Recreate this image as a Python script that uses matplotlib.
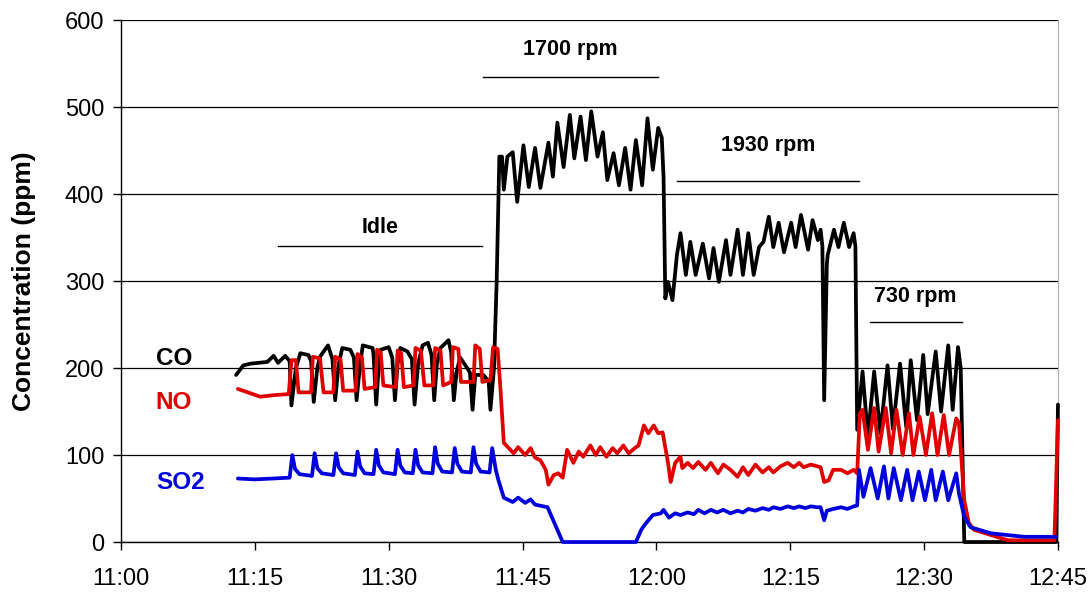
import matplotlib.pyplot as plt

# time axis: minutes after 11:00
tick_minutes = [0, 15, 30, 45, 60, 75, 90, 105]
tick_labels = ["11:00", "11:15", "11:30", "11:45", "12:00", "12:15", "12:30", "12:45"]

co_min = [12.9, 13.7, 14.5, 16.4, 17.1, 17.6, 18.4, 18.9, 19.1, 19.6,
          20.1, 21.0, 21.3, 21.6, 22.0, 22.3, 23.2, 23.7, 24.0, 24.4,
          24.8, 25.7, 26.1, 26.4, 26.8, 27.1, 28.2, 28.3, 28.6, 28.9,
          29.1, 30.0, 30.4, 30.7, 31.0, 31.3, 32.1, 32.6, 32.9, 33.3,
          33.8, 34.4, 34.8, 35.1, 35.4, 35.8, 36.7, 37.0, 37.3, 37.6,
          38.0, 38.6, 39.1, 39.4, 39.7, 40.6, 41.2, 41.4, 41.8, 42.1,
          42.4, 42.7, 42.9, 43.3, 43.9, 44.4, 45.1, 45.7, 46.4, 47.0,
          47.9, 48.4, 48.9, 49.6, 50.3, 50.8, 51.5, 52.1, 52.7, 53.4,
          54.0, 54.5, 55.2, 55.8, 56.5, 57.1, 57.7, 58.4, 59.0, 59.6,
          60.2, 60.6, 60.8, 61.0, 61.3, 61.8, 62.3, 62.7, 63.3, 63.8,
          64.4, 65.2, 65.9, 66.4, 67.0, 67.8, 68.3, 69.1, 69.7, 70.3,
          70.9, 71.5, 72.0, 72.6, 73.1, 73.7, 74.3, 75.1, 75.6, 76.2,
          77.0, 77.5, 78.1, 78.4, 78.6, 78.8, 79.1, 79.2, 79.9, 80.4,
          81.0, 81.6, 82.1, 82.3, 82.5, 83.1, 83.7, 84.4, 85.1, 85.9,
          86.5, 87.3, 88.0, 88.5, 89.2, 89.9, 90.4, 91.3, 91.9, 92.7,
          93.2, 93.8, 94.1, 94.5, 104.8, 105.0]
co_ppm = [192, 203, 205, 207, 214, 206, 214, 208, 157, 200,
          217, 215, 208, 161, 200, 213, 226, 210, 163, 205,
          223, 221, 212, 163, 205, 226, 223, 215, 158, 205,
          221, 224, 212, 163, 205, 223, 219, 210, 158, 205,
          226, 229, 215, 163, 205, 223, 232, 218, 163, 195,
          212, 203, 195, 152, 192, 192, 185, 152, 200, 300,
          443, 443, 405, 443, 448, 391, 456, 408, 453, 407,
          459, 420, 482, 431, 491, 441, 489, 439, 495, 443,
          471, 416, 447, 410, 453, 405, 462, 410, 487, 428,
          476, 465, 420, 280, 299, 278, 330, 355, 307, 345,
          307, 343, 303, 338, 299, 347, 307, 359, 307, 355,
          307, 339, 345, 374, 339, 367, 333, 367, 339, 376,
          336, 370, 347, 359, 340, 163, 320, 330, 359, 339,
          367, 339, 355, 340, 129, 196, 121, 196, 125, 203,
          130, 205, 132, 209, 140, 215, 147, 219, 150, 226,
          152, 224, 200, 0, 0, 158]

no_min = [13.1, 14.5, 15.6, 17.3, 18.8, 19.1, 19.6, 19.9, 21.3, 21.5,
          22.3, 22.7, 23.8, 24.0, 24.6, 24.9, 26.3, 26.5, 27.0, 27.3,
          28.5, 28.7, 29.1, 29.4, 30.8, 31.0, 31.4, 31.7, 32.8, 33.0,
          33.6, 34.0, 35.0, 35.2, 35.8, 36.1, 37.0, 37.2, 37.8, 38.1,
          39.5, 39.7, 40.2, 40.5, 41.4, 41.7, 42.2, 42.5, 42.9, 44.0,
          44.5, 45.3, 45.9, 46.4, 47.0, 47.6, 47.9, 48.5, 49.0, 49.5,
          50.0, 50.7, 51.3, 51.8, 52.6, 53.2, 53.7, 54.4, 55.1, 55.6,
          56.3, 56.9, 57.7, 58.0, 58.6, 59.1, 59.7, 60.2, 60.7, 61.3,
          61.6, 62.1, 62.7, 62.9, 63.5, 64.1, 64.7, 65.5, 66.1, 66.9,
          67.5, 68.3, 69.1, 69.7, 70.3, 71.1, 71.9, 72.6, 73.1, 73.9,
          74.7, 75.4, 76.0, 76.5, 77.3, 78.4, 78.8, 79.3, 79.8, 80.7,
          81.4, 82.1, 82.5, 82.8, 83.1, 83.7, 84.4, 84.9, 85.7, 86.3,
          86.9, 87.6, 88.3, 88.8, 89.5, 90.2, 90.9, 91.5, 92.2, 92.8,
          93.6, 93.9, 94.5, 95.0, 95.6, 97.5, 99.4, 104.6, 105.0]
no_ppm = [176, 171, 167, 169, 170, 209, 209, 172, 172, 213,
          211, 172, 172, 213, 210, 174, 174, 216, 212, 176,
          178, 221, 218, 180, 178, 220, 217, 178, 180, 223,
          220, 180, 180, 223, 220, 180, 184, 224, 222, 184,
          184, 226, 222, 184, 186, 224, 222, 180, 114, 102,
          109, 100, 108, 97, 94, 83, 66, 77, 79, 74,
          106, 91, 104, 98, 111, 100, 109, 98, 108, 102,
          111, 102, 109, 111, 134, 125, 134, 125, 126, 91,
          69, 91, 98, 85, 91, 85, 92, 83, 91, 79,
          89, 83, 75, 86, 77, 89, 80, 86, 80, 87,
          91, 86, 91, 86, 89, 86, 69, 71, 83, 83,
          79, 83, 79, 148, 152, 106, 154, 104, 154, 102,
          152, 100, 148, 100, 144, 100, 148, 100, 146, 100,
          142, 137, 48, 22, 14, 8, 2, 2, 140]

so2_min = [13.1, 15.0, 17.0, 18.9, 19.2, 19.5, 20.0, 21.4, 21.7, 22.0,
           22.5, 23.8, 24.1, 24.4, 24.9, 26.2, 26.5, 26.8, 27.3, 28.3,
           28.6, 28.9, 29.4, 30.7, 31.0, 31.3, 31.8, 32.7, 33.0, 33.3,
           33.8, 34.9, 35.2, 35.5, 36.0, 37.1, 37.4, 37.7, 38.2, 39.2,
           39.5, 39.8, 40.3, 41.3, 41.6, 42.0, 42.3, 42.9, 43.9, 44.5,
           45.3, 45.9, 46.4, 47.8, 49.5, 57.7, 58.3, 58.7, 59.6, 60.5,
           60.8, 61.4, 62.1, 62.7, 63.5, 64.2, 64.7, 65.4, 66.1, 66.8,
           67.5, 68.3, 69.1, 69.7, 70.3, 71.1, 71.9, 72.6, 73.1, 73.9,
           74.7, 75.4, 76.0, 76.7, 77.3, 78.0, 78.4, 78.8, 79.1, 79.8,
           80.7, 81.4, 82.1, 82.5, 82.7, 83.2, 84.0, 84.8, 85.5, 86.0,
           86.6, 87.4, 88.1, 88.7, 89.4, 90.1, 90.8, 91.3, 92.1, 92.7,
           93.6, 93.9, 94.5, 95.2, 97.5, 101.2, 104.8]
so2_ppm = [73, 72, 73, 74, 100, 84, 78, 76, 102, 85,
           79, 77, 102, 86, 79, 77, 104, 87, 79, 78,
           106, 88, 80, 78, 106, 88, 80, 79, 106, 88,
           80, 79, 109, 90, 81, 80, 108, 90, 81, 80,
           109, 90, 81, 80, 108, 83, 71, 51, 46, 51,
           45, 49, 43, 40, 0, 0, 14, 20, 31, 33,
           37, 28, 33, 31, 34, 32, 37, 33, 37, 34,
           37, 33, 36, 34, 38, 36, 39, 37, 40, 38,
           41, 39, 41, 39, 41, 40, 40, 25, 36, 38,
           40, 38, 41, 42, 83, 52, 85, 50, 87, 50,
           85, 48, 83, 48, 81, 48, 83, 48, 81, 48,
           79, 56, 29, 17, 10, 6, 6]

# engine speed phases: label, start, end, bar level, text level
phase_labels = ["Idle", "1700 rpm", "1930 rpm", "730 rpm"]
phase_start = [17.6, 40.6, 62.3, 83.9]
phase_end = [40.5, 60.2, 82.7, 94.2]
phase_bar = [340, 534, 415, 253]
phase_text = [362, 566, 456, 282]

series_names = ["CO", "NO", "SO2"]
series_colors = ["black", "#e00000", "#0000dd"]
series_text_y = [211, 160, 68]

plt.rcParams['font.family'] = ['Liberation Sans', 'DejaVu Sans']

fig = plt.figure(figsize=(10.88, 5.94), dpi=100)
ax = fig.add_axes([0.1112, 0.0875, 0.8612, 0.8788])

line_kw = dict(lw=2.7, clip_on=False, solid_joinstyle='round', solid_capstyle='round')
ax.plot(co_min, co_ppm, color=series_colors[0], zorder=3, **line_kw)
ax.plot(no_min, no_ppm, color=series_colors[1], zorder=4, **line_kw)
ax.plot(so2_min, so2_ppm, color=series_colors[2], zorder=5, **line_kw)

for name, col, ty in zip(series_names, series_colors, series_text_y):
    ax.text(3.9, ty, name, color=col, fontsize=17.5, fontweight='bold',
            ha='left', va='center')

for lab, x0, x1, yb, yt in zip(phase_labels, phase_start, phase_end, phase_bar, phase_text):
    ax.plot([x0, x1], [yb, yb], color='black', lw=1.0)
    ax.text((x0 + x1) / 2, yt, lab, fontsize=15.5, fontweight='bold',
            ha='center', va='center')

ax.set_xlim(0, 105)
ax.set_ylim(0, 600)
ax.set_xticks(tick_minutes)
ax.set_xticklabels(tick_labels)
ax.set_yticks(range(0, 601, 100))
ax.tick_params(axis='both', labelsize=17, direction='out', length=6, width=1)
ax.tick_params(axis='x', pad=13)
ax.tick_params(axis='y', pad=6)

ax.yaxis.grid(True, color='black', lw=0.9)
ax.set_axisbelow(True)
ax.spines['top'].set_visible(False)
ax.spines['right'].set_color('#b0b0b0')
ax.spines['left'].set_linewidth(1.0)
ax.spines['bottom'].set_linewidth(1.0)

ax.set_ylabel("Concentration (ppm)", fontsize=19, fontweight='bold', labelpad=21)

plt.savefig("out.png", dpi=100)
